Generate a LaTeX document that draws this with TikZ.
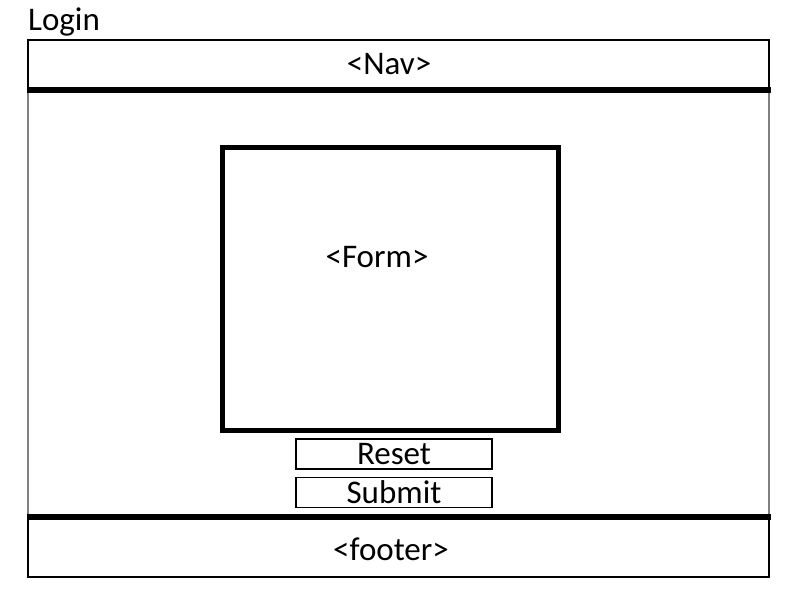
\documentclass[tikz,border=0pt]{standalone}
\usepackage{fontspec}
\setmainfont{Carlito}
\usepackage{tikz}
\usetikzlibrary{positioning}

\begin{document}
\begin{tikzpicture}[
		x=1pt, y=-1pt,
		every node/.style={font=\fontsize{33}{38}\selectfont, inner sep=0pt},
		box/.style={draw, rectangle, line width=2pt},
		formbox/.style={draw, rectangle, line width=5pt},
		button/.style={draw, rectangle, line width=1.5pt, minimum width=196pt, minimum height=30pt},
		rule/.style={line width=5.5pt},
		side/.style={draw=gray, line width=1.5pt}]

	\useasboundingbox[fill=white] (0,0) rectangle (800,600);

	\node[anchor=base west] (login) at (28,30) {Login};

	% page body
	\coordinate (bodytl) at (28,90);
	\coordinate (bodytr) at (769,90);
	\coordinate (bodybl) at (28,517);
	\coordinate (bodybr) at (769,517);
	\draw[side] (bodytl) -- (bodybl);
	\draw[side] (bodytr) -- (bodybr);

	\node[box, minimum width=741pt, minimum height=48pt] (nav) at (398.5,64) {};
	\node (navtext) at (389,64) {<Nav>};
	\node[box, minimum width=741pt, minimum height=59pt] (footer) at (398.5,547.5) {};
	\node (footertext) at (391,549) {<footer>};

	\draw[rule] ([xshift=-1pt]bodytl) -- ([xshift=2pt]bodytr);
	\draw[rule] ([xshift=-1pt]bodybl) -- ([xshift=2pt]bodybr);

	\node[formbox, minimum width=336pt, minimum height=283pt] (form) at (390,288.5) {};
	\node (formtext) at (377,257) {<Form>};

	\node[button] (reset) at (394,454) {Reset};
	\node[button, below=7pt of reset] (submit) {Submit};
\end{tikzpicture}
\end{document}
